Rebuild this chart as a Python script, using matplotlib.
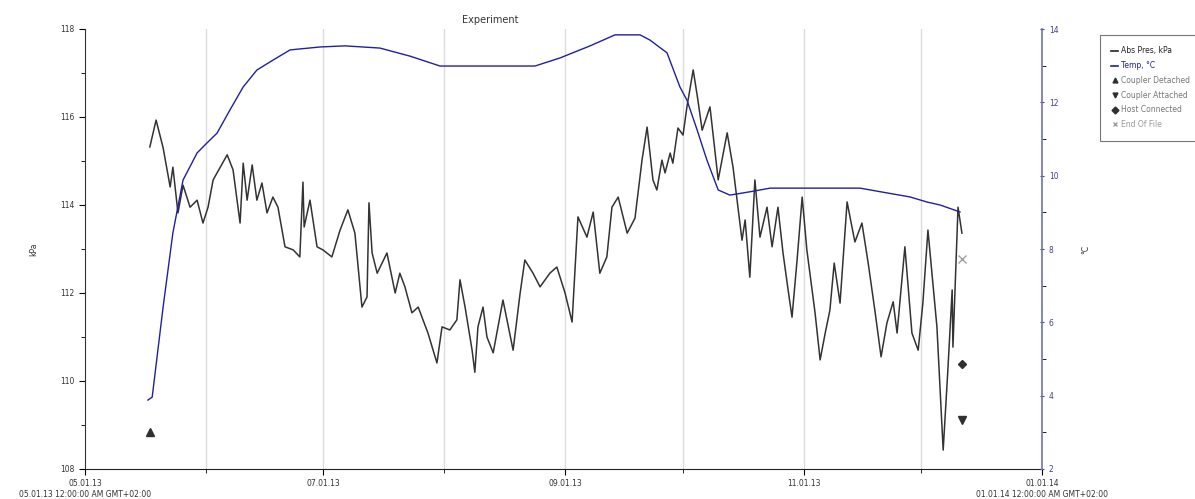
import matplotlib
matplotlib.use("Agg")
import matplotlib.pyplot as plt
from matplotlib.lines import Line2D
import pandas as pd

# ---- data (days since 2013-05-01) ----
pres_days = [16.6, 18.2, 20.0, 21.8, 22.5, 23.8, 25.1, 26.9, 28.7, 30.2, 31.5, 32.8, 36.4, 37.9, 39.7, 40.5,
             41.5, 42.8, 44.0, 45.3, 46.6, 48.1, 49.4, 51.2, 53.3, 55.0, 55.8, 56.1, 57.6, 59.4, 60.9, 63.2,
             65.3, 67.3, 69.1, 70.9, 72.2, 72.7, 73.5, 74.8, 77.3, 79.4, 80.6, 81.9, 83.7, 85.3, 87.8, 90.1,
             91.4, 93.4, 95.2, 96.0, 97.3, 99.1, 99.8, 100.6, 101.9, 102.9, 104.5, 107.0, 109.6, 111.4, 112.6,
             114.7, 116.5, 119.0, 120.8, 122.9, 124.7, 126.2, 128.5, 130.1, 131.8, 133.6, 134.9, 136.5, 138.8,
             140.8, 142.6, 143.9, 145.4, 146.4, 147.7, 148.5, 149.8, 150.5, 151.8, 153.1, 154.1, 155.7, 156.9,
             158.0, 160.0, 162.1, 164.4, 165.9, 168.2, 169.0, 170.2, 171.5, 172.8, 174.6, 175.9, 177.4, 178.7,
             180.0, 181.0, 182.3, 183.6, 184.8, 186.9, 188.2, 189.5, 190.7, 191.8, 193.3, 195.1, 197.1, 198.9,
             200.5, 202.3, 203.8, 205.3, 206.9, 207.9, 209.9, 211.7, 213.3, 214.5, 215.8, 218.1, 219.7, 220.9,
             222.0, 222.2, 223.5, 224.5]
pres_kpa = [115.32, 115.93, 115.30, 114.41, 114.86, 113.82, 114.45, 113.95, 114.11, 113.59, 113.95, 114.57,
            115.14, 114.80, 113.59, 114.95, 114.11, 114.91, 114.11, 114.50, 113.82, 114.18, 113.95, 113.05,
            112.98, 112.82, 114.52, 113.50, 114.11, 113.05, 112.98, 112.82, 113.43, 113.89, 113.36, 111.68,
            111.91, 114.05, 112.91, 112.45, 112.91, 112.00, 112.45, 112.14, 111.55, 111.68, 111.09, 110.41,
            111.23, 111.16, 111.39, 112.30, 111.68, 110.70, 110.20, 111.23, 111.68, 111.00, 110.64, 111.84,
            110.70, 112.00, 112.75, 112.45, 112.14, 112.45, 112.59, 112.00, 111.34, 113.73, 113.27, 113.84,
            112.45, 112.82, 113.95, 114.18, 113.36, 113.70, 115.02, 115.77, 114.57, 114.34, 115.02, 114.73,
            115.18, 114.95, 115.75, 115.59, 116.23, 117.07, 116.39, 115.70, 116.23, 114.57, 115.64, 114.86,
            113.20, 113.66, 112.36, 114.57, 113.27, 113.95, 113.05, 113.95, 112.91, 112.07, 111.45, 112.75,
            114.18, 112.98, 111.55, 110.48, 111.09, 111.61, 112.68, 111.77, 114.07, 113.16, 113.59, 112.68,
            111.55, 110.55, 111.32, 111.80, 111.09, 113.05, 111.09, 110.70, 111.77, 113.43, 111.23, 108.43,
            110.25, 112.07, 110.77, 113.95, 113.36]

temp_days = [16.1, 17.2, 20.0, 22.5, 25.1, 28.7, 31.2, 33.8, 37.1, 40.5, 44.0, 48.1, 52.5, 60.2, 66.6, 75.5,
             83.2, 90.9, 115.2, 121.6, 129.3, 135.7, 142.1, 144.6, 149.0, 152.3, 154.1, 156.7, 159.2, 162.1,
             165.1, 170.2, 175.4, 198.4, 205.3, 211.2, 215.6, 218.9, 224.0]
temp_c = [3.88, 3.96, 6.42, 8.44, 9.88, 10.62, 10.89, 11.16, 11.79, 12.42, 12.88, 13.15, 13.43, 13.51, 13.54,
          13.48, 13.26, 12.99, 12.99, 13.21, 13.54, 13.84, 13.84, 13.70, 13.35, 12.42, 12.06, 11.25, 10.43,
          9.61, 9.47, 9.56, 9.66, 9.66, 9.53, 9.42, 9.28, 9.20, 9.01]

event_names = ["Coupler Detached", "Coupler Attached", "Host Connected", "End Of File"]
event_days = [16.6, 224.5, 224.5, 224.5]
event_kpa = [108.84, 109.11, 110.39, 112.77]
event_markers = ["^", "v", "D", "x"]
event_colors = ["#303030", "#303030", "#303030", "#a0a0a0"]

x_major_labels = ["05.01.13\n05.01.13 12:00:00 AM GMT+02:00", "07.01.13", "09.01.13", "11.01.13",
                  "01.01.14\n01.01.14 12:00:00 AM GMT+02:00"]

start = pd.Timestamp("2013-05-01")
end = pd.Timestamp("2014-01-01")
to_dt = lambda ds: [start + pd.Timedelta(days=d) for d in ds]

fig = plt.figure(figsize=(11.95, 4.99), dpi=100)
ax = fig.add_axes([85/1195, 30/499, (1042-85)/1195, (469-29)/499])
ax2 = ax.twinx()

ax.plot(to_dt(pres_days), pres_kpa, color="#333333", lw=1.1, zorder=3)
ax2.plot(to_dt(temp_days), temp_c, color="#2020a0", lw=1.0, zorder=3)
for n, d, k, m, c in zip(event_names, event_days, event_kpa, event_markers, event_colors):
    ax.plot(to_dt([d]), [k], linestyle="none", marker=m, color=c,
            markersize=6 if m != "D" else 4.5, mew=1.0, zorder=4)

ax.set_xlim(start, end)
ax.set_ylim(108, 118)
ax2.set_ylim(2, 14)

major = [pd.Timestamp(s) for s in ["2013-05-01", "2013-07-01", "2013-09-01", "2013-11-01", "2014-01-01"]]
minor = [pd.Timestamp(s) for s in ["2013-06-01", "2013-08-01", "2013-10-01", "2013-12-01"]]
ax.set_xticks(major)
ax.set_xticks(minor, minor=True)
ax.set_xticklabels(x_major_labels, fontsize=5.5, color="#333333")
for t in list(major[1:-1]) + minor:
    ax.axvline(t, color="#dcdcdc", lw=1.0, zorder=0)

ax.set_yticks([108, 110, 112, 114, 116, 118])
ax.set_yticks([109, 111, 113, 115, 117], minor=True)
ax.tick_params(axis="y", labelsize=5.5, labelcolor="#333333", length=4)
ax.tick_params(axis="y", which="minor", length=3)
ax.tick_params(axis="x", length=4, labelsize=5.5)
ax.tick_params(axis="x", which="minor", length=3)
ax.set_ylabel("kPa", fontsize=5.5, color="#333333", labelpad=16)

ax2.set_yticks([2, 4, 6, 8, 10, 12, 14])
ax2.set_yticks([3, 5, 7, 9, 11, 13], minor=True)
ax2.tick_params(axis="y", labelsize=5.5, labelcolor="#404090", color="#404090", length=3, direction="inout")
ax2.tick_params(axis="y", which="minor", length=3)
ax2.set_ylabel("°C", fontsize=5.5, color="#333333", labelpad=16)

for a in (ax, ax2):
    a.spines["top"].set_visible(False)
ax2.spines["left"].set_visible(False)
ax2.spines["bottom"].set_visible(False)
ax.spines["right"].set_visible(False)
ax2.spines["right"].set_color("#7070b8")
ax2.spines["right"].set_linewidth(1.2)
ax.spines["left"].set_color("#333333")
ax.spines["bottom"].set_color("#222222")

fig.text(490/1195, 1 - 20/499, "Experiment", fontsize=7, color="#333333", ha="center", va="center")

handles = [Line2D([], [], color="#222222", lw=1.2),
           Line2D([], [], color="#2020a0", lw=1.2)]
labels = ["Abs Pres, kPa", "Temp, °C"]
for n, m, c in zip(event_names, event_markers, event_colors):
    handles.append(Line2D([], [], linestyle="none", marker=m, color=c, markersize=3.5))
    labels.append(n)
leg = fig.legend(handles, labels, loc="upper left", bbox_to_anchor=(1100/1195, 1 - 35/499),
                 fontsize=5.5, frameon=True, fancybox=False, edgecolor="#555555",
                 handlelength=0.9, handletextpad=0.3, borderpad=1.5, labelspacing=0.75,
                 borderaxespad=0)
leg.get_frame().set_linewidth(0.8)
for txt, col in zip(leg.get_texts(), ["#222222", "#2020a0", "#777777", "#777777", "#777777", "#999999"]):
    txt.set_color(col)

fig.savefig("out.png", dpi=100)
